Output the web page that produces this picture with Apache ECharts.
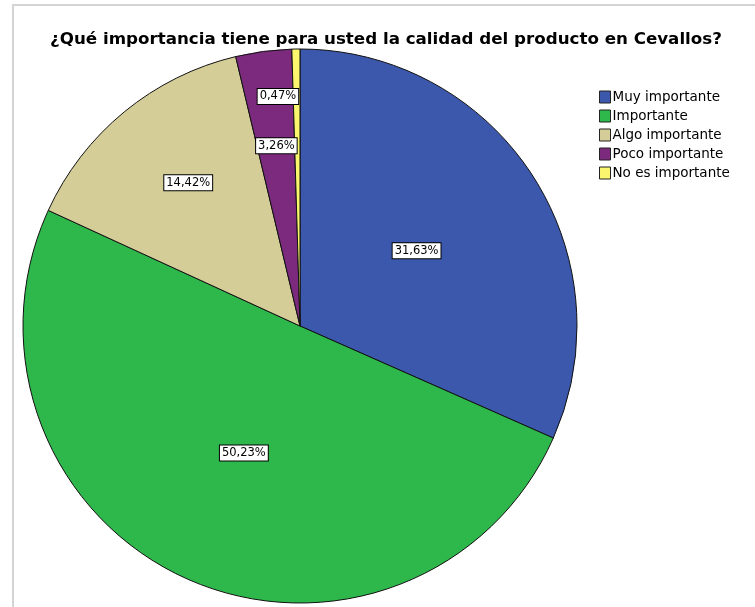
<!DOCTYPE html>
<html>
<head>
<meta charset="utf-8">
<script src="https://cdn.jsdelivr.net/npm/echarts@6/dist/echarts.min.js"></script>
<style>
  html, body { margin: 0; padding: 0; background: #fff; }
  .frame {
    position: absolute;
    left: 12px;
    top: 4px;
    width: 760px;
    height: 620px;
    border-left: 2px solid #d4d4d4;
    border-top: 2px solid #d4d4d4;
  }
  #chart { position: absolute; left: 0; top: 0; width: 755px; height: 607px; }
</style>
</head>
<body>
<div class="frame"></div>
<div id="chart"></div>
<script>
  var titleText = '¿Qué importancia tiene para usted la calidad del producto en Cevallos?';
  var categories = ['Muy importante', 'Importante', 'Algo importante', 'Poco importante', 'No es importante'];
  var percents = [31.63, 50.23, 14.42, 3.26, 0.47];
  var colors = ['#3c58ad', '#2eb84b', '#d4cd98', '#7c2a7e', '#faf76f'];

  // nudges for the slice labels (dx, dy) relative to default inside spot
  var labelShift = [[-2, 2], [2, -2], [-22, -34], [-5, -40], [-20, -88]];

  var chart = echarts.init(document.getElementById('chart'));

  chart.setOption({
    animation: false,
    title: {
      text: titleText,
      left: 381,
      textAlign: 'center',
      top: 26,
      textStyle: {
        fontFamily: 'DejaVu Sans',
        fontWeight: 'bold',
        fontSize: 16.7,
        color: '#000'
      }
    },
    legend: {
      orient: 'vertical',
      left: 594,
      top: 85,
      itemWidth: 11,
      itemHeight: 12,
      itemGap: 5,
      icon: 'rect',
      data: categories,
      textStyle: {
        fontFamily: 'DejaVu Sans',
        fontSize: 13.5,
        color: '#000',
        padding: [0, 0, 0, -3]
      },
      itemStyle: { borderColor: '#222', borderWidth: 1 }
    },
    series: [{
      type: 'pie',
      center: [300, 326],
      radius: 277,
      startAngle: 90,
      clockwise: true,
      avoidLabelOverlap: false,
      itemStyle: { borderColor: '#111', borderWidth: 1 },
      label: {
        show: true,
        position: 'inside',
        fontFamily: 'DejaVu Sans',
        fontSize: 11.5,
        color: '#000',
        backgroundColor: '#fff',
        borderColor: '#000',
        borderWidth: 1,
        padding: [2, 2, 1, 2],
        formatter: function (p) {
          return p.value.toFixed(2).replace('.', ',') + '%';
        }
      },
      labelLayout: function (p) {
        var s = labelShift[p.dataIndex];
        return { dx: s[0], dy: s[1] };
      },
      emphasis: { disabled: true },
      data: categories.map(function (c, i) {
        return { name: c, value: percents[i], itemStyle: { color: colors[i] } };
      })
    }]
  });
</script>
</body>
</html>
